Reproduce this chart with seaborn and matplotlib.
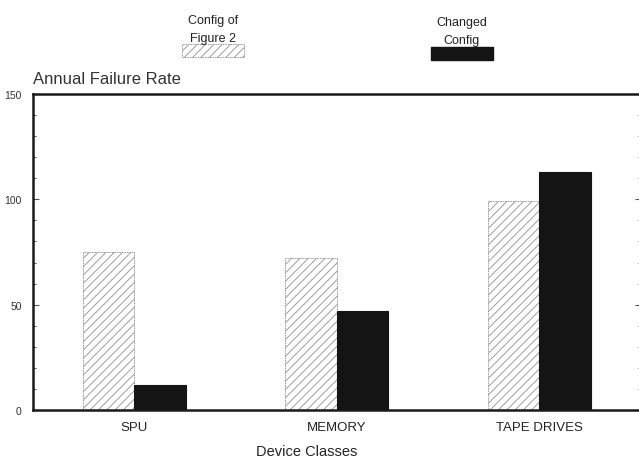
import matplotlib
matplotlib.use("Agg")
import matplotlib.pyplot as plt
from matplotlib.patches import Rectangle
from matplotlib.ticker import MultipleLocator
import seaborn as sns
import pandas as pd

# data
devices = ["SPU", "MEMORY", "TAPE DRIVES"]
config_fig2 = [75, 72, 99]
changed_config = [12, 47, 113]
series_names = ["Config of\nFigure 2", "Changed\nConfig"]

df = pd.DataFrame({
    "device": devices * 2,
    "rate": config_fig2 + changed_config,
    "config": [series_names[0]] * 3 + [series_names[1]] * 3,
})

sns.set_style("ticks")
plt.rcParams["font.family"] = ["Liberation Sans", "DejaVu Sans"]
plt.rcParams["hatch.linewidth"] = 0.6

fig = plt.figure(figsize=(6.39, 4.64), dpi=100)
ax = fig.add_axes([0.0516, 0.1142, 0.951, 0.681])

pal = {series_names[0]: "white", series_names[1]: "#141414"}
sns.barplot(data=df, x="device", y="rate", hue="config", palette=pal,
            width=0.51, legend=False, ax=ax, saturation=1)

# hatch the first series, solid black edges for the second
for p in ax.containers[0]:
    p.set_hatch("////")
    p.set_edgecolor("#8f8f8f")
    p.set_linewidth(0.6)
    p.set_linestyle((0, (2, 1)))
for p in ax.containers[1]:
    p.set_edgecolor("#141414")
    p.set_linewidth(0.8)

ax.set_xlim(-0.5, 2.5)
ax.set_ylim(0, 150)
ax.yaxis.set_major_locator(MultipleLocator(50))
ax.yaxis.set_minor_locator(MultipleLocator(10))

for side in ["left", "bottom", "top"]:
    ax.spines[side].set_linewidth(1.8)
    ax.spines[side].set_color("#1a1a1a")
ax.spines["right"].set_visible(False)

ax.tick_params(axis="y", which="both", direction="in", left=True, right=True,
               color="#555555", labelsize=7.5, labelcolor="#333333", pad=8)
ax.tick_params(axis="y", which="major", length=4, width=0.8)
ax.tick_params(axis="y", which="minor", length=2.5, width=0.7)
ax.tick_params(axis="x", length=0, pad=8, labelsize=9.5, labelcolor="#222222")

ax.set_ylabel("")
ax.set_xlabel("Device Classes", fontsize=10.5, color="#222222", labelpad=8)
ax.xaxis.label.set_x(0.45)
ax.text(0.0, 1.025, "Annual Failure Rate", transform=ax.transAxes,
        fontsize=12, color="#333333", ha="left", va="bottom")

# legend drawn above the plot: text on top, swatch below
fig.patches.append(Rectangle((0.2848, 0.875), 0.097, 0.028, transform=fig.transFigure,
                             facecolor="white", edgecolor="#8f8f8f", hatch="////",
                             linewidth=0.6, linestyle=(0, (2, 1))))
fig.patches.append(Rectangle((0.6745, 0.8685), 0.097, 0.028, transform=fig.transFigure,
                             facecolor="#141414", edgecolor="#141414"))
fig.text(0.333, 0.903, series_names[0], ha="center", va="bottom", fontsize=9,
         color="#222222", linespacing=1.65)
fig.text(0.723, 0.898, series_names[1], ha="center", va="bottom", fontsize=9,
         color="#222222", linespacing=1.65)

fig.savefig("out.png", dpi=100, facecolor="white")
